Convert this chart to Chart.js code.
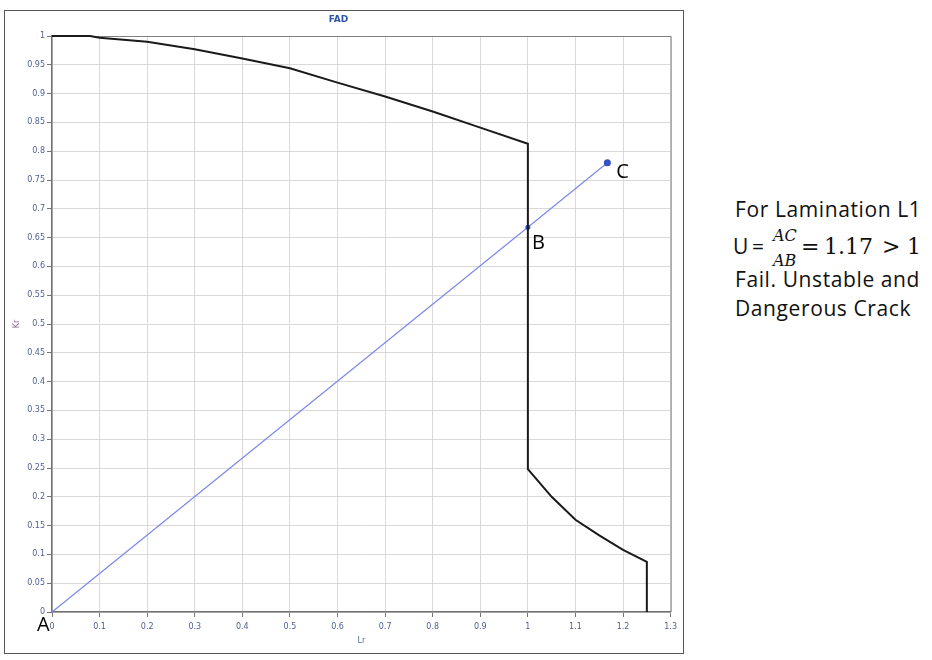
<!DOCTYPE html>
<html>
<head>
<meta charset="utf-8">
<script src="https://cdn.jsdelivr.net/npm/chart.js@4"></script>
<style>
  html, body { margin: 0; padding: 0; background: #ffffff; }
  body { width: 932px; height: 660px; position: relative; overflow: hidden; }
  #frame { position: absolute; left: 4px; top: 10px; width: 680px; height: 644px; box-sizing: border-box; border: 1.5px solid #555; }
  #wrap { position: absolute; left: 6px; top: 12px; width: 676px; height: 639px; }
  .note { position: absolute; left: 735px; font-family: "Open Sans", sans-serif; font-size: 21px; letter-spacing: 0.6px; color: #111; line-height: 21px; white-space: nowrap; }
  .m { position: absolute; font-family: "DejaVu Serif", serif; font-size: 22px; line-height: 22px; color: #111; white-space: nowrap; }
  .fi { position: absolute; font-family: "DejaVu Serif", serif; font-style: italic; font-size: 16px; line-height: 16px; color: #111; white-space: nowrap; }
</style>
</head>
<body>
<div id="frame"></div>
<div id="wrap"><canvas id="c"></canvas></div>

<div class="note" style="top:199px;">For Lamination L1</div>
<div class="note" style="top:236px; left:733px; word-spacing:-3px;">U =</div>
<span class="fi" style="left:773px; top:228px;">AC</span>
<span class="fi" style="left:773px; top:253px;">AB</span>
<span class="m" style="left:801px; top:236px;">=</span>
<span class="m" style="left:824px; top:236px;">1.17</span>
<span class="m" style="left:882px; top:236px;">&gt;</span>
<span class="m" style="left:907px; top:236px;">1</span>
<div class="note" style="top:269px;">Fail. Unstable and</div>
<div class="note" style="top:298px;">Dangerous Crack</div>

<script>
// ---- Data ----
const fadLr = [0, 0.08, 0.1, 0.2, 0.3, 0.4, 0.5, 0.6, 0.7, 0.8, 0.9, 1.0, 1.0, 1.05, 1.1, 1.15, 1.2, 1.25, 1.25];
const fadKr = [1, 1, 0.997, 0.99, 0.977, 0.961, 0.944, 0.919, 0.895, 0.869, 0.841, 0.813, 0.248, 0.2, 0.16, 0.133, 0.108, 0.087, 0];

const loadLr = [0, 1.0, 1.167];
const loadKr = [0, 0.668, 0.78];
const loadLabels = ['A', 'B', 'C'];

const xTickValues = [0, 0.1, 0.2, 0.3, 0.4, 0.5, 0.6, 0.7, 0.8, 0.9, 1, 1.1, 1.2, 1.3];
const xTickLabels = ['0', '0.1', '0.2', '0.3', '0.4', '0.5', '0.6', '0.7', '0.8', '0.9', '1', '1.1', '1.2', '1.3'];
const yTickValues = [0, 0.05, 0.1, 0.15, 0.2, 0.25, 0.3, 0.35, 0.4, 0.45, 0.5, 0.55, 0.6, 0.65, 0.7, 0.75, 0.8, 0.85, 0.9, 0.95, 1];
const yTickLabels = ['0', '0.05', '0.1', '0.15', '0.2', '0.25', '0.3', '0.35', '0.4', '0.45', '0.5', '0.55', '0.6', '0.65', '0.7', '0.75', '0.8', '0.85', '0.9', '0.95', '1'];

const chartTitle = 'FAD';
const xTitle = 'Lr';
const yTitle = 'Kr';

// ---- Build datasets ----
const fadPoints = fadLr.map((x, i) => ({ x: x, y: fadKr[i] }));
const loadPoints = loadLr.map((x, i) => ({ x: x, y: loadKr[i] }));

const tickFont = { family: 'DejaVu Sans', size: 8 };
const tickColor = '#4f5f95';

const framePlugin = {
  id: 'framePlugin',
  beforeDatasetsDraw(chart) {
    const { ctx, chartArea: a } = chart;
    ctx.save();
    ctx.strokeStyle = '#808080';
    ctx.lineWidth = 1;
    ctx.beginPath();
    ctx.moveTo(a.left, a.top + 0.5);
    ctx.lineTo(a.right + 0.5, a.top + 0.5);
    ctx.lineTo(a.right + 0.5, a.bottom);
    ctx.stroke();
    ctx.restore();
  },
  afterDatasetsDraw(chart) {
    const { ctx, scales } = chart;
    ctx.save();
    ctx.fillStyle = '#000';
    ctx.font = '20px "Open Sans", sans-serif';
    ctx.textBaseline = 'alphabetic';
    const offs = [[-15, 19], [4, 22], [9, 15]];
    loadLabels.forEach((t, i) => {
      const px = scales.x.getPixelForValue(loadLr[i]);
      const py = scales.y.getPixelForValue(loadKr[i]);
      ctx.fillText(t, px + offs[i][0], py + offs[i][1]);
    });
    ctx.restore();
  }
};

new Chart(document.getElementById('c'), {
  type: 'scatter',
  data: {
    datasets: [
      {
        label: 'FAD',
        data: fadPoints,
        showLine: true,
        borderColor: '#1a1a1a',
        borderWidth: 2,
        pointRadius: 0,
        tension: 0,
        clip: 4
      },
      {
        label: 'Load line',
        data: loadPoints,
        showLine: true,
        borderColor: '#7c88ea',
        borderWidth: 1.2,
        pointRadius: [0, 2.5, 3.5],
        pointBackgroundColor: '#3350c0',
        pointBorderColor: '#3350c0',
        pointBorderWidth: 0,
        tension: 0,
        clip: 6
      }
    ]
  },
  plugins: [framePlugin],
  options: {
    responsive: true,
    maintainAspectRatio: false,
    animation: false,
    layout: { padding: { top: 0, right: 11, bottom: 0, left: 0 } },
    plugins: {
      legend: { display: false },
      tooltip: { enabled: false },
      title: {
        display: true,
        text: chartTitle,
        color: '#2f55a8',
        font: { family: 'DejaVu Sans', size: 9, weight: 'bold', lineHeight: 1 },
        padding: { top: 3, bottom: 12 }
      }
    },
    scales: {
      x: {
        type: 'linear',
        min: 0,
        max: 1.3,
        afterBuildTicks: (s) => { s.ticks = xTickValues.map(v => ({ value: v })); },
        afterFit: (s) => { s.height = 39; },
        ticks: {
          autoSkip: false,
          maxRotation: 0,
          padding: 5,
          color: tickColor,
          font: tickFont,
          callback: (v, i) => xTickLabels[i]
        },
        grid: { color: '#d9d9d9', lineWidth: 1, tickLength: 5, tickColor: '#777' },
        border: { color: '#707070', width: 1.5 },
        title: { display: true, text: xTitle, color: '#5a6a9a', font: { family: 'DejaVu Sans', size: 8 }, padding: { top: 0, bottom: 5 } }
      },
      y: {
        type: 'linear',
        min: 0,
        max: 1,
        afterBuildTicks: (s) => { s.ticks = yTickValues.map(v => ({ value: v })); },
        afterFit: (s) => { s.width = 46; },
        ticks: {
          autoSkip: false,
          padding: 2,
          color: tickColor,
          font: tickFont,
          callback: (v, i) => yTickLabels[i]
        },
        grid: { color: '#d9d9d9', lineWidth: 1, tickLength: 5, tickColor: '#777' },
        border: { color: '#707070', width: 1.5 },
        title: { display: true, text: yTitle, color: '#8a6a8a', font: { family: 'DejaVu Sans', size: 8 }, padding: { top: 6, bottom: 0 } }
      }
    }
  }
});
</script>
</body>
</html>
